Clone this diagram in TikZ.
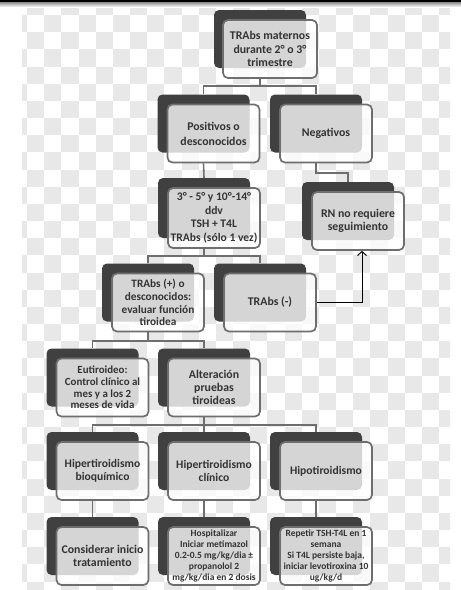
\documentclass[tikz,border=0pt]{standalone}
\usepackage{fontspec}
\setmainfont{Carlito}
\usetikzlibrary{arrows.meta,calc}
\definecolor{shadowdark}{HTML}{404040}
\definecolor{edgegrey}{HTML}{6E6E6E}
\definecolor{txtgrey}{HTML}{333333}
\definecolor{checkgrey}{HTML}{E8E8E8}
\tikzset{
  shadowbox/.style={fill=shadowdark, rounded corners=5pt, minimum width=92pt, minimum height=58pt, inner sep=0pt},
  frontbox/.style={draw=edgegrey, line width=1.7pt, fill=white, fill opacity=0.78, text opacity=1,
    rounded corners=5pt, minimum width=92pt, minimum height=58pt, inner sep=1pt, align=center,
    text=txtgrey, font=\bfseries\fontsize{11.5}{13.5}\selectfont},
  fs/.style 2 args={font=\bfseries\fontsize{#1}{#2}\selectfont},
  conn/.style={draw=edgegrey, line width=1.6pt},
  arr/.style={draw=black, line width=1pt, -{Straight Barb[length=4pt,width=9pt]}}
}
\begin{document}
\begin{tikzpicture}[x=1pt,y=-1pt]
\useasboundingbox (0,0) rectangle (461,590);
% checkered background
\begin{scope}
  \clip (22,5) rectangle (450,590);
  \foreach \i in {0,...,25}{
    \foreach \j in {0,...,35}{
      \ifodd\numexpr\i+\j\relax
        \fill[checkgrey] ({9.83+17.17*\i},{-2.17+17.17*\j}) rectangle ++(17.17,17.17);
      \fi
    }
  }
\end{scope}
% top rule
\shade[top color=black!45, bottom color=white] (0,2) rectangle (461,7);
\draw[black, line width=1.6pt] (0,1.2) -- (461,1.2);

% boxes: shadow then front
\node[shadowbox] (b1s) at (260,39) {};
\node[frontbox, minimum width=94pt, fs={11.8}{13.3}] (b1) at (270,49) {TRAbs maternos\\durante 2° o 3°\\trimestre};

\node[shadowbox] (b2s) at (203.5,123.5) {};
\node[frontbox, fs={11.8}{15}] (b2) at (213.5,133.5) {Positivos o\\desconocidos};
\node[shadowbox] (b3s) at (316,123.5) {};
\node[frontbox, fs={11.8}{14}] (b3) at (326,133.5) {Negativos};

\node[shadowbox, minimum height=60pt] (b4s) at (204,208) {};
\node[frontbox, minimum height=60pt, fs={11.6}{13.5}] (b4) at (214,218) {3° - 5° y 10°-14°\\ddv\\TSH + T4L\\TRAbs (sólo 1 vez)};
\node[shadowbox] (b5s) at (348,211) {};
\node[frontbox, fs={11.8}{13.5}] (b5) at (358,221) {RN no requiere\\seguimiento};

\node[shadowbox] (b6s) at (148,292.5) {};
\node[frontbox, fs={11.3}{12.8}] (b6) at (158,302.5) {TRAbs (+) o\\desconocidos:\\evaluar función\\tiroidea};
\node[shadowbox] (b7s) at (260,292.5) {};
\node[frontbox, fs={11.8}{14}] (b7) at (270,302.5) {TRAbs (-)};

\node[shadowbox] (b8s) at (92.5,377.5) {};
\node[frontbox, fs={10.9}{11.8}] (b8) at (102.5,387.5) {Eutiroideo:\\Control clínico al\\mes y a los 2\\meses de vida};
\node[shadowbox] (b9s) at (204,377.5) {};
\node[frontbox, fs={11.8}{13.3}] (b9) at (214,387.5) {Alteración\\pruebas\\tiroideas};

\node[shadowbox] (b10s) at (92.5,461) {};
\node[frontbox, fs={11.6}{12.5}] (b10) at (102.5,471) {Hipertiroidismo\\bioquímico};
\node[shadowbox] (b11s) at (204,461) {};
\node[frontbox, fs={11.6}{12.5}] (b11) at (214,471) {Hipertiroidismo\\clínico};
\node[shadowbox] (b12s) at (316,461) {};
\node[frontbox, fs={11.6}{12.5}] (b12) at (326,471) {Hipotiroidismo};

\node[shadowbox] (b13s) at (92.5,546) {};
\node[frontbox, fs={11.8}{12.5}] (b13) at (102.5,556) {Considerar inicio\\tratamiento};
\node[shadowbox] (b14s) at (204,546) {};
\node[frontbox, fs={9.5}{10.8}] (b14) at (214,556) {Hospitalizar\\Iniciar metimazol\\0.2-0.5 mg/kg/dia ±\\propanolol 2\\mg/kg/dia en 2 dosis};
\node[shadowbox] (b15s) at (316,546) {};
\node[frontbox, fs={9.5}{10.8}] (b15) at (326,556) {Repetir TSH-T4L en 1\\semana\\Si T4L persiste baja,\\iniciar levotiroxina 10\\ug/kg/d};

% bus levels
\coordinate (bus1) at (0,86);
\coordinate (bus3) at (0,173);
\coordinate (bus4) at (0,256);
\coordinate (bus6) at (0,341);
\coordinate (bus9) at (0,425);
\coordinate (ax) at (362,0);

% connectors
\draw[conn] (b1s.south |- b1.south) -- (b1s.south |- bus1) -| (b2s.north);
\draw[conn] (b1s.south |- bus1) -| (b3s.north);
\draw[conn] (b2s.south |- b2.south) -- (b4s.north);
\draw[conn] (b3s.south |- b3.south) -- (b3s.south |- bus3) -| (b5s.north);
\draw[conn] (b4s.south |- b4.south) -- (b4s.south |- bus4) -| (b6s.north);
\draw[conn] (b4s.south |- bus4) -| (b7s.north);
\draw[conn] (b6s.south |- b6.south) -- (b6s.south |- bus6) -| (b8s.north);
\draw[conn] (b6s.south |- bus6) -| (b9s.north);
\draw[conn] (b9s.south |- b9.south) -- (b9s.south |- bus9) -| (b10s.north);
\draw[conn] (b9s.south |- bus9) -| (b11s.north);
\draw[conn] (b9s.south |- bus9) -| (b12s.north);
\draw[conn] (b10s.south |- b10.south) -- (b13s.north);
\draw[conn] (b11s.south |- b11.south) -- (b14s.north);
\draw[conn] (b12s.south |- b12.south) -- (b15s.north);
\draw[arr] (b7.east) -| (ax |- b5.south);
\end{tikzpicture}
\end{document}
